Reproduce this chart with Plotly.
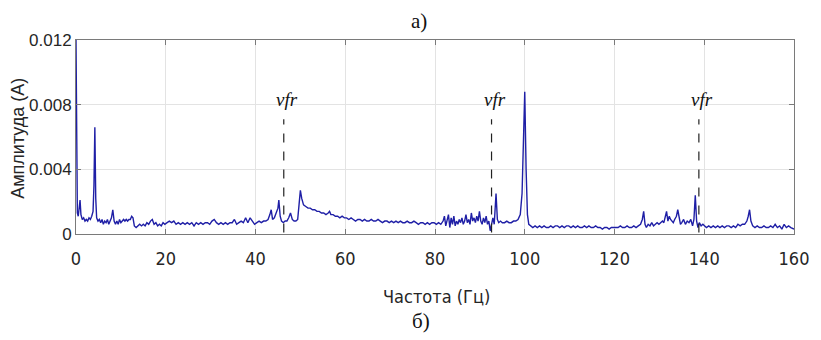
import plotly.graph_objects as go

# Current spectrum: frequency (Hz) and amplitude (A)
freq = [
    0, 0.15, 0.3, 0.5, 0.7, 0.9, 1.1, 1.4, 1.7, 2.0, 2.3, 2.6, 2.9, 3.2, 3.5, 3.8, 4.0, 4.2, 4.4, 4.6, 4.9,
    5.2, 5.5, 5.8, 6.1, 6.4, 6.7, 7.0, 7.3, 7.6, 7.9, 8.2, 8.5, 8.8, 9.1, 9.4, 9.7, 10.0, 10.3, 10.6, 10.9,
    11.2, 11.5, 11.8, 12.1, 12.4, 12.7, 13.0,
    13.4, 13.8, 14.2, 14.6, 15.0, 15.4, 15.8, 16.2, 16.6, 17.0, 17.4, 17.8, 18.2, 18.6, 19.0, 19.4, 19.8,
    20.3, 20.8, 21.3, 21.8, 22.3, 22.8, 23.3, 23.8, 24.3, 24.8, 25.3, 25.8, 26.3, 26.8, 27.3, 27.8, 28.3,
    28.8, 29.3, 29.8, 30.3, 30.8, 31.3, 31.8, 32.3, 32.8, 33.3, 33.8, 34.3, 34.8, 35.3, 35.8, 36.3, 36.8,
    37.3, 37.8, 38.3, 38.8, 39.3, 39.8, 40.3, 40.8, 41.3, 41.8, 42.3, 42.8,
    43.2, 43.5, 43.8, 44.2, 44.6, 45.0, 45.2, 45.5, 45.8, 46.2, 46.6, 47.0, 47.4, 47.8, 48.2, 48.6, 49.0,
    49.4, 49.7, 50.0, 50.3, 50.7, 51.2, 51.7, 52.2, 52.7, 53.2, 53.7, 54.2, 54.7, 55.2, 55.7, 56.2, 56.5, 56.8,
    57.3, 57.8, 58.3, 58.8, 59.3, 59.8, 60.3, 60.8, 61.3, 61.8, 62.3, 62.8, 63.3, 63.8, 64.3, 64.8, 65.3,
    65.8, 66.3, 66.8, 67.3, 67.8, 68.3, 68.8, 69.3, 69.8, 70.3, 70.8, 71.3, 71.8, 72.3, 72.8, 73.3, 73.8,
    74.3, 74.8, 75.3, 75.8, 76.3, 76.8, 77.3, 77.8, 78.3, 78.8, 79.3, 79.8,
    80.3, 80.8, 81.3, 81.8, 82.1, 82.4, 82.7, 83.0, 83.3, 83.6, 83.9, 84.2, 84.5, 84.8, 85.1, 85.4, 85.7,
    86.0, 86.3, 86.6, 86.9, 87.2, 87.5, 87.8, 88.1, 88.4, 88.7, 89.0, 89.3, 89.6, 89.9, 90.2, 90.5, 90.8,
    91.1, 91.4, 91.7, 92.0, 92.3, 92.6, 92.9, 93.2, 93.6, 93.9, 94.2, 94.6, 95.0,
    95.5, 96.0, 96.5, 97.0, 97.5, 98.0, 98.5, 99.0, 99.4, 99.7, 100.0, 100.3, 100.6, 100.9, 101.3, 101.8, 102.3,
    102.8, 103.3, 103.8, 104.3, 104.8, 105.3, 105.8, 106.3, 106.8, 107.3, 107.8, 108.3, 108.8, 109.3, 109.8,
    110.3, 110.8, 111.3, 111.8, 112.3, 112.8, 113.3, 113.8, 114.3, 114.8, 115.3, 115.8, 116.3, 116.8, 117.3,
    117.8, 118.3, 118.8, 119.3, 119.8, 120.3, 120.8, 121.3, 121.8, 122.3, 122.8, 123.3, 123.8, 124.3, 124.8,
    125.3, 125.8, 126.2, 126.5, 126.8, 127.1, 127.5, 127.9, 128.3, 128.7, 129.1, 129.5, 129.9, 130.3, 130.7,
    131.0, 131.3, 131.6, 131.9, 132.2, 132.5, 132.8, 133.1, 133.4, 133.8, 134.1, 134.4, 134.7, 135.0, 135.4,
    135.8, 136.2, 136.6, 137.0, 137.4, 137.7, 138.0, 138.3, 138.6, 138.9, 139.3, 139.7, 140.1, 140.5, 141.0,
    141.5, 142.0, 142.5, 143.0, 143.5, 144.0, 144.5, 145.0, 145.5, 146.0, 146.5, 147.0, 147.5, 148.0, 148.5,
    149.0, 149.5, 149.8, 150.1, 150.4, 150.8, 151.3, 151.8, 152.3, 152.8, 153.3, 153.8, 154.3, 154.8, 155.3,
    155.8, 156.3, 156.8, 157.3, 157.8, 158.3, 158.8, 159.3, 159.8, 160.0,
]

amplitude = [
    0.0120, 0.0060, 0.0013, 0.0011, 0.0015, 0.0021, 0.0012, 0.0009, 0.0010, 0.0008, 0.0009, 0.0008, 0.0010,
    0.0009, 0.0011, 0.0014, 0.0030, 0.0066, 0.0022, 0.0010, 0.0008,
    0.0009, 0.0007, 0.0009, 0.0006, 0.0008, 0.0007, 0.0009, 0.0006, 0.0008, 0.0010, 0.0015, 0.0008, 0.0006,
    0.0008, 0.0006, 0.0009, 0.0007, 0.0008, 0.0009, 0.0008, 0.0009, 0.0008, 0.0009, 0.0009, 0.0011, 0.0010,
    0.0005,
    0.0004, 0.0005, 0.0006, 0.0005, 0.0006, 0.0005, 0.0007, 0.0006, 0.0008, 0.0009, 0.0006, 0.0007, 0.0005,
    0.0006, 0.0005, 0.0007, 0.0006,
    0.0007, 0.0008, 0.0007, 0.0008, 0.0006, 0.0007, 0.0006, 0.0007, 0.0006, 0.0007, 0.0006, 0.0007, 0.0005,
    0.0007, 0.0006, 0.0007, 0.0006, 0.0007, 0.0007, 0.0006, 0.0008, 0.0009, 0.0007, 0.0006, 0.0007, 0.0006,
    0.0007, 0.0006, 0.0007, 0.0007, 0.0009, 0.0006, 0.0007, 0.0008, 0.0007, 0.0010, 0.0007, 0.0010, 0.0008,
    0.0006, 0.0007, 0.0008, 0.0007, 0.0008, 0.0008, 0.0009,
    0.0012, 0.0015, 0.0009, 0.0010, 0.0013, 0.0016, 0.0021, 0.0011, 0.0008, 0.0007, 0.0008, 0.0008, 0.0010,
    0.0013, 0.0009, 0.0008, 0.0008, 0.0009, 0.0018, 0.0027, 0.0022, 0.0018, 0.0017, 0.0016, 0.0016, 0.0015,
    0.0015, 0.0014, 0.0014, 0.0013, 0.0013, 0.0012, 0.0013, 0.0014, 0.0012,
    0.0012, 0.0011, 0.0011, 0.0010, 0.0011, 0.0010, 0.0010, 0.0009, 0.0010, 0.0009, 0.0008, 0.0009, 0.0009,
    0.0008, 0.0009, 0.0008, 0.0008, 0.0009, 0.0008, 0.0008, 0.0009, 0.0008, 0.0007, 0.0008, 0.0008, 0.0007,
    0.0008, 0.0007, 0.0008, 0.0007, 0.0008, 0.0007, 0.0007, 0.0008, 0.0007, 0.0007, 0.0008, 0.0007, 0.0006,
    0.0007, 0.0007, 0.0006, 0.0007, 0.0006, 0.0007, 0.0007,
    0.0006, 0.0007, 0.0006, 0.0008, 0.0011, 0.0005, 0.0009, 0.0012, 0.0004, 0.0010, 0.0006, 0.0011, 0.0005,
    0.0008, 0.0006, 0.0009, 0.0007, 0.0010, 0.0006, 0.0008, 0.0012, 0.0007, 0.0009, 0.0006, 0.0013, 0.0008,
    0.0010, 0.0007, 0.0011, 0.0008, 0.0014, 0.0008, 0.0006, 0.0010, 0.0007, 0.0011, 0.0006, 0.0008, 0.0002,
    0.0007, 0.0010, 0.0006, 0.0025, 0.0009, 0.0007, 0.0008, 0.0007,
    0.0007, 0.0008, 0.0007, 0.0007, 0.0008, 0.0008, 0.0009, 0.0012, 0.0025, 0.0060, 0.0088, 0.0040, 0.0012,
    0.0006, 0.0005, 0.0004, 0.0005,
    0.0004, 0.0005, 0.0004, 0.0005, 0.0004, 0.0004, 0.0005, 0.0004, 0.0005, 0.0005, 0.0004, 0.0005, 0.0004,
    0.0005, 0.0005, 0.0004, 0.0005, 0.0004, 0.0005, 0.0004, 0.0004, 0.0005, 0.0004, 0.0005, 0.0004, 0.0004,
    0.0005, 0.0004, 0.0004, 0.0003, 0.0004, 0.0004, 0.0003, 0.0004, 0.0004, 0.0004, 0.0004, 0.0005, 0.0004,
    0.0004, 0.0005, 0.0004, 0.0004, 0.0005, 0.0004, 0.0005, 0.0006, 0.0009, 0.0014, 0.0006, 0.0004, 0.0006,
    0.0005, 0.0007, 0.0005, 0.0006, 0.0007, 0.0006, 0.0007, 0.0008, 0.0007, 0.0010, 0.0014, 0.0008, 0.0011,
    0.0009, 0.0008, 0.0007, 0.0009, 0.0011, 0.0015, 0.0009, 0.0006, 0.0007, 0.0009, 0.0006, 0.0008, 0.0007,
    0.0009, 0.0005, 0.0009, 0.0024, 0.0008, 0.0004, 0.0007, 0.0005, 0.0006, 0.0005, 0.0004, 0.0005, 0.0004,
    0.0005, 0.0004, 0.0005, 0.0004, 0.0005, 0.0004, 0.0005, 0.0005, 0.0004, 0.0005, 0.0004, 0.0006, 0.0005,
    0.0006, 0.0006, 0.0008, 0.0011, 0.0015, 0.0008, 0.0005, 0.0004, 0.0005, 0.0004, 0.0004, 0.0005, 0.0004,
    0.0004, 0.0005, 0.0004, 0.0006, 0.0004, 0.0005, 0.0003, 0.0006, 0.0004, 0.0005, 0.0004, 0.0003, 0.0003,
]

# Rotor-related frequency markers
vfr_freqs = [46.3, 92.6, 138.8]
vfr_label = "vfr"
vfr_line_bottom = 0.0001
vfr_line_top = 0.0071
vfr_text_level = 0.0083

x_ticks = [0, 20, 40, 60, 80, 100, 120, 140, 160]
y_ticks = [0, 0.004, 0.008, 0.012]
y_tick_text = ["0", "0.004", "0.008", "0.012"]

W, H = 821, 340
ML, MR, MT, MB = 76, 17, 40, 106
PW, PH = W - ML - MR, H - MT - MB

NARROW = "Liberation Sans Narrow, DejaVu Sans Condensed, Arial Narrow, Liberation Sans, sans-serif"

fig = go.Figure()

fig.add_trace(go.Scatter(
    x=freq, y=amplitude, mode="lines",
    line=dict(color="#1f1fa6", width=1.4),
    hoverinfo="skip", showlegend=False,
))

for f in vfr_freqs:
    fig.add_shape(type="line", xref="x", yref="y",
                  x0=f, x1=f, y0=vfr_line_bottom, y1=vfr_line_top,
                  line=dict(color="#222222", width=1.2, dash="dash"))
    fig.add_annotation(x=f + 0.8, y=vfr_text_level, xref="x", yref="y",
                       xanchor="center", yanchor="middle",
                       text="<i>" + vfr_label + "</i>", showarrow=False,
                       font=dict(family="Liberation Serif, DejaVu Serif, serif", size=19, color="#111111"))


def px_to_paper(px, py):
    return (px - ML) / PW, (H - MB - py) / PH


def caption(px, py, text, font, angle=0):
    x, y = px_to_paper(px, py)
    fig.add_annotation(x=x, y=y, xref="paper", yref="paper", text=text, showarrow=False,
                       xanchor="center", yanchor="middle", textangle=angle, font=font)


# Panel captions and axis titles
caption(424, 21, "а)", dict(family="Liberation Serif, serif", size=21, color="#111111"))
caption(426, 321, "б)", dict(family="Liberation Serif, serif", size=21, color="#111111"))
caption(442, 296, "Частота (Гц)", dict(family=NARROW, size=18, color="#262626"))
caption(17, 138, "Амплитуда (А)", dict(family="Liberation Sans, Arial, sans-serif", size=18, color="#262626"),
        angle=-90)

fig.update_xaxes(
    range=[0, 160], tickvals=x_ticks, ticktext=[str(v) for v in x_ticks],
    showgrid=True, gridcolor="#e3e3e3", gridwidth=1,
    showline=True, linecolor="#7a7a7a", linewidth=1, mirror="ticks",
    ticks="inside", ticklen=5, tickcolor="#7a7a7a",
    ticklabelstandoff=8,
    tickfont=dict(family=NARROW, size=18, color="#262626"),
    zeroline=False,
)
fig.update_yaxes(
    range=[0, 0.012], tickvals=y_ticks, ticktext=y_tick_text,
    showgrid=True, gridcolor="#e3e3e3", gridwidth=1,
    showline=True, linecolor="#7a7a7a", linewidth=1, mirror="ticks",
    ticks="inside", ticklen=5, tickcolor="#7a7a7a",
    tickfont=dict(family="Liberation Sans, Arial, sans-serif", size=17, color="#262626"),
    zeroline=False,
)

fig.update_layout(
    width=W, height=H,
    margin=dict(l=ML, r=MR, t=MT, b=MB),
    paper_bgcolor="white", plot_bgcolor="white",
)

fig.write_html("out.html")
